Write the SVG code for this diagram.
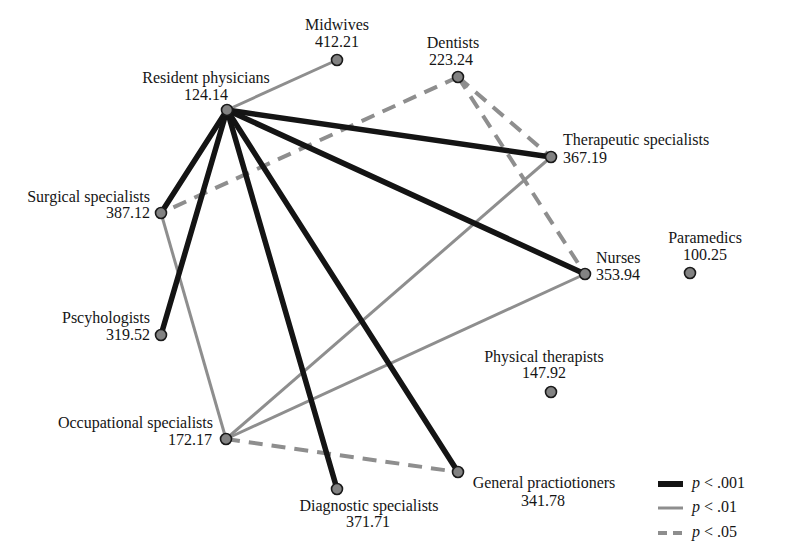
<svg xmlns="http://www.w3.org/2000/svg" width="806" height="551" viewBox="0 0 806 551">
<style>
text{font-size:16px;fill:#151515}
.m{text-anchor:middle}.e{text-anchor:end}
.b{stroke:#141414;stroke-width:5.5;stroke-linecap:round;fill:none}
.g{stroke:#8e8e8e;stroke-width:3;fill:none}
.d{stroke:#8e8e8e;stroke-width:4;stroke-dasharray:14 9;fill:none}
circle{fill:#828282;stroke:#1a1a1a;stroke-width:1.6}
</style>
<rect width="806" height="551" fill="#fff"/>
<g id="connectors">
<line class="g" x1="227" y1="110" x2="337" y2="60"/>
<line class="g" x1="161" y1="213" x2="226" y2="439"/>
<line class="g" x1="226" y1="439" x2="551" y2="157"/>
<line class="g" x1="226" y1="439" x2="585" y2="274"/>
<line class="d" x1="458" y1="77" x2="161" y2="213"/>
<line class="d" x1="458" y1="77" x2="551" y2="157"/>
<line class="d" x1="458" y1="77" x2="585" y2="274"/>
<line class="d" x1="226" y1="439" x2="458" y2="472"/>
<line class="b" x1="227" y1="110" x2="551" y2="157"/>
<line class="b" x1="227" y1="110" x2="585" y2="274"/>
<line class="b" x1="227" y1="110" x2="161" y2="213"/>
<line class="b" x1="227" y1="110" x2="161" y2="335"/>
<line class="b" x1="227" y1="110" x2="337" y2="489"/>
<line class="b" x1="227" y1="110" x2="458" y2="472"/>
</g>
<g font-family="'Liberation Serif', 'Times New Roman', 'DejaVu Serif', serif">
<g id="resident"><circle cx="227" cy="110" r="5.5"/><text class="m" x="206" y="83">Resident physicians</text><text class="m" x="206" y="100">124.14</text></g>
<g id="midwives"><circle cx="337" cy="60" r="5.5"/><text class="m" x="337" y="30">Midwives</text><text class="m" x="337" y="47">412.21</text></g>
<g id="dentists"><circle cx="458" cy="77" r="5.5"/><text class="m" x="453" y="48">Dentists</text><text class="m" x="451" y="65">223.24</text></g>
<g id="therapeutic"><circle cx="551" cy="157" r="5.5"/><text x="563" y="145">Therapeutic specialists</text><text x="563" y="163">367.19</text></g>
<g id="nurses"><circle cx="585" cy="274" r="5.5"/><text x="596" y="263">Nurses</text><text x="596" y="280">353.94</text></g>
<g id="paramedics"><circle cx="690" cy="273" r="5.5"/><text class="m" x="705" y="243">Paramedics</text><text class="m" x="705" y="260">100.25</text></g>
<g id="surgical"><circle cx="161" cy="213" r="5.5"/><text class="e" x="150" y="202">Surgical specialists</text><text class="e" x="150" y="218">387.12</text></g>
<g id="psychologists"><circle cx="161" cy="335" r="5.5"/><text class="e" x="150" y="323">Pscyhologists</text><text class="e" x="150" y="340">319.52</text></g>
<g id="occupational"><circle cx="226" cy="439" r="5.5"/><text class="e" x="213" y="428">Occupational specialists</text><text class="e" x="212" y="445">172.17</text></g>
<g id="diagnostic"><circle cx="337" cy="489" r="5.5"/><text class="m" x="369" y="511">Diagnostic specialists</text><text class="m" x="368" y="527">371.71</text></g>
<g id="general"><circle cx="458" cy="472" r="5.5"/><text class="m" x="544" y="488">General practiotioners</text><text class="m" x="543" y="506">341.78</text></g>
<g id="physical"><circle cx="551" cy="392" r="5.5"/><text class="m" x="544" y="362">Physical therapists</text><text class="m" x="544" y="378">147.92</text></g>
<g id="legend">
<line x1="658" y1="484" x2="683" y2="484" stroke="#141414" stroke-width="6"/>
<line x1="658" y1="508" x2="683" y2="508" stroke="#8e8e8e" stroke-width="3"/>
<line x1="658" y1="533" x2="683" y2="533" stroke="#8e8e8e" stroke-width="4" stroke-dasharray="9 6"/>
<text x="692" y="488"><tspan font-style="italic">p</tspan> &lt; .001</text>
<text x="692" y="512"><tspan font-style="italic">p</tspan> &lt; .01</text>
<text x="692" y="537"><tspan font-style="italic">p</tspan> &lt; .05</text>
</g>
</g>
</svg>
